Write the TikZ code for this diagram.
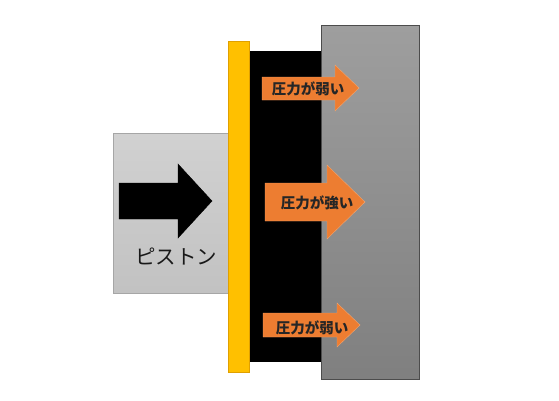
\documentclass[tikz,border=0pt]{standalone}
\usepackage{fontspec}
\newfontfamily\jpfont{Noto Sans CJK JP}
\usepackage{tikz}
\usetikzlibrary{calc}
\definecolor{plateyellow}{HTML}{FFC000}
\definecolor{plateedge}{HTML}{E0A000}
\definecolor{pressorange}{HTML}{ED7D31}
% block arrow: body x0..x1, head to tip; body y0..y1, head y2..y3
\def\blockarrow[#1](#2,#3,#4)(#5,#6,#7,#8){\draw[#1] (#2,#5) -- (#3,#5) -- (#3,#7) -- (#4,{(#7+#8)/2}) -- (#3,#8) -- (#3,#6) -- (#2,#6) -- cycle;}

\begin{document}
\begin{tikzpicture}[x=1pt,y=-1pt]
			%%%%% START %%%%%
			\useasboundingbox (0,0) rectangle (559,400);
			
			% piston
			\draw[color=black!35, top color=black!18, bottom color=black!24] (113,133) rectangle (230,293);
			\blockarrow[fill=black](119,178,212)(183,219,164,238)
			\node[font=\jpfont\fontsize{20.5}{21}\selectfont, text=black!90] (piston) at (176,256) {ピストン};
			
			% plate and rubber
			\draw[fill=black] (249,51) rectangle (321,361);
			\draw[color=plateedge, fill=plateyellow] (228,41) rectangle (249,372);
			
			% wall
			\draw[color=black!70, top color=black!38, bottom color=black!50] (321,25) rectangle (419,379);
			
			% pressure arrows
			\blockarrow[color=pressorange!70!white, fill=pressorange](262,335,359)(77,100,65,111)
			\blockarrow[color=pressorange!70!white, fill=pressorange](265,327,365)(183,221,165,239)
			\blockarrow[color=pressorange!70!white, fill=pressorange](263,337,360)(313,337,303,347)
			
			\node[font=\jpfont\bfseries\fontsize{14.5}{15}\selectfont, text=black!85] (weaktop) at (308,89) {圧力が弱い};
			\node[font=\jpfont\bfseries\fontsize{14.5}{15}\selectfont, text=black!85] (strong) at (317,203) {圧力が強い};
			\node[font=\jpfont\bfseries\fontsize{14.5}{15}\selectfont, text=black!85] (weakbot) at (312,328) {圧力が弱い};
			%%%%% END %%%%%
		\end{tikzpicture}
\end{document}
